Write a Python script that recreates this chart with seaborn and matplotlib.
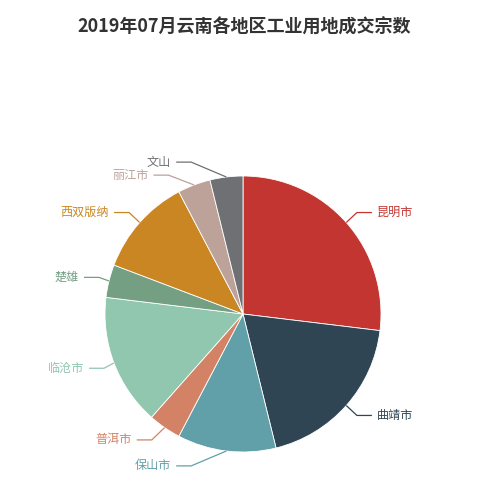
import numpy as np
import matplotlib
matplotlib.use("Agg")
import matplotlib.pyplot as plt
import seaborn as sns

# Data
regions = ["昆明市", "曲靖市", "保山市", "普洱市", "临沧市", "楚雄", "西双版纳", "丽江市", "文山"]
counts = [7, 5, 3, 1, 4, 1, 3, 1, 1]
title = "2019年07月云南各地区工业用地成交宗数"
colors = ["#c23531", "#2f4554", "#61a0a8", "#d48265", "#91c7ae",
          "#749f83", "#ca8622", "#bda29a", "#6e7074"]

sns.set_theme(style="white")
plt.rcParams['font.family'] = ['Noto Sans CJK SC', 'DejaVu Sans']

W, H = 500, 490
fig = plt.figure(figsize=(W / 100, H / 100), dpi=100)
ax = fig.add_axes([0, 0, 1, 1])

# pixel-space geometry (y measured from the top, converted when drawing)
cx, cy_top, R = 243, 314, 138
palette = sns.color_palette(colors)
wedges, _ = ax.pie(counts, colors=palette, startangle=90, counterclock=False,
                   center=(cx, H - cy_top), radius=R, frame=True,
                   wedgeprops=dict(linewidth=0.6, edgecolor='white'))
ax.set_xlim(0, W)
ax.set_ylim(0, H)
ax.set_aspect('equal')
ax.axis('off')

# ECharts-like outside label layout
L1, L2, GAP, TH = 15, 15, 5, 13
items = []
for w, lab, col in zip(wedges, regions, colors):
    mid = np.deg2rad((w.theta1 + w.theta2) / 2)
    x0, y0 = cx + R * np.cos(mid), cy_top - R * np.sin(mid)
    x1, y1 = cx + (R + L1) * np.cos(mid), cy_top - (R + L1) * np.sin(mid)
    side = 1 if np.cos(mid) >= 0 else -1
    items.append(dict(lab=lab, col=col, x0=x0, y0=y0, x1=x1, y=y1,
                      x=x1 + side * L2, side=side))

for side in (1, -1):
    grp = sorted([it for it in items if it['side'] == side], key=lambda d: d['y'])
    last = -1e9
    for it in grp:
        if it['y'] < last:
            it['y'] = last
        last = it['y'] + TH
    up = [it for it in grp if it['y'] < cy_top]
    down = [it for it in grp if it['y'] >= cy_top]
    for lst, is_down in ((up, False), (down, True)):
        lastdx = 1e9 if is_down else 0
        for it in lst:
            dy = abs(it['y'] - cy_top)
            if dy < R + L1:
                dx = np.sqrt((R + L1 + L2) ** 2 - dy ** 2)
            else:
                dx = abs(it['x'] - cx)
            if is_down and dx >= lastdx:
                dx = lastdx - 10
            if not is_down and dx <= lastdx:
                dx = lastdx + 10
            it['x'] = cx + side * dx
            lastdx = dx

for it in items:
    s = it['side']
    xend = it['x'] - s * GAP
    xelb = xend - s * L2
    ax.plot([it['x0'], xelb, xend], [H - it['y0'], H - it['y'], H - it['y']],
            color=it['col'], lw=0.9, solid_capstyle='butt')
    ax.text(it['x'], H - it['y'], it['lab'], color=it['col'], fontsize=8.7,
            ha='left' if s > 0 else 'right', va='center')

ax.text(244, H - 27, title, fontsize=13, fontweight='bold', color='#333333',
        ha='center', va='center')

fig.savefig("out.png", dpi=100, facecolor='white')
